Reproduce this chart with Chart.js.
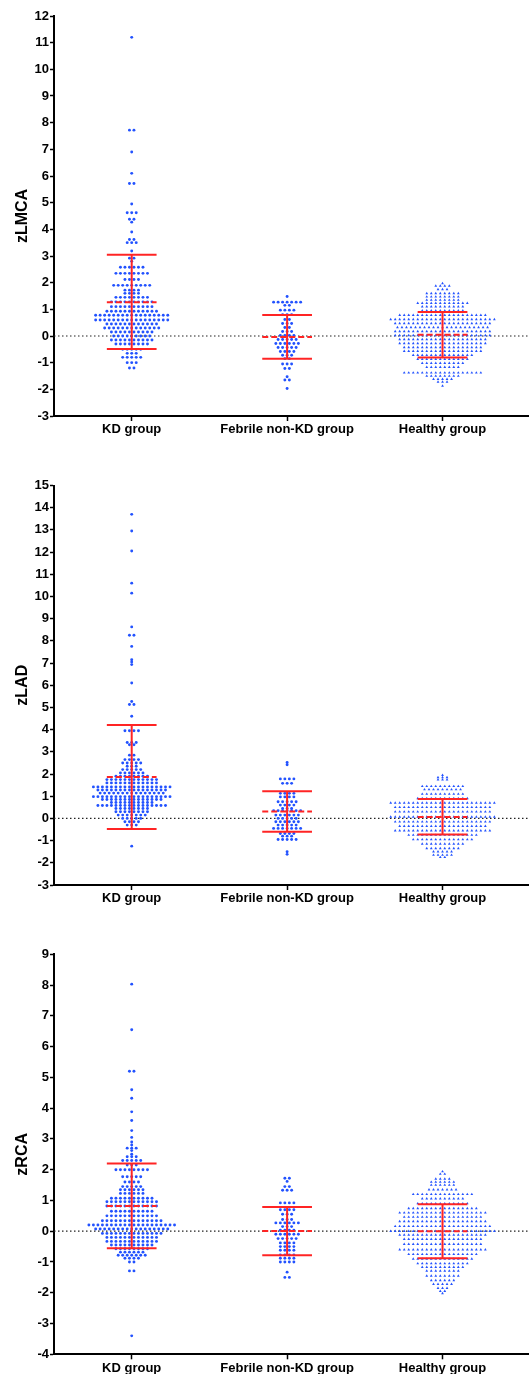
<!DOCTYPE html>
<html>
<head>
<meta charset="utf-8">
<title>zLMCA / zLAD / zRCA</title>
<script src="https://cdn.jsdelivr.net/npm/chart.js@4.4.1/dist/chart.umd.min.js"></script>
<style>
  html, body { margin: 0; padding: 0; background: #fff; }
  body { width: 532px; height: 1374px; position: relative; overflow: hidden; }
  canvas { position: absolute; left: 0; }
</style>
</head>
<body>
<canvas id="lmca" width="532" height="445" style="top:0px"></canvas>
<canvas id="lad" width="532" height="460" style="top:455px"></canvas>
<canvas id="rca" width="532" height="449" style="top:925px"></canvas>

<script>
// categories
const groups = ["KD group", "Febrile non-KD group", "Healthy group"];

// dot rows: [z value, number of dots in that row]
const lmcaKD = [[11.2,1],[7.72,2],[6.9,1],[6.1,1],[5.72,2],[4.95,1],[4.62,3],[4.38,2],[4.27,1],[3.9,1],[3.62,2],[3.5,3],
  [3.19,1],[2.92,2],[2.8,1],[2.58,6],[2.35,8],[2.12,4],[1.9,9],[1.72,4],[1.6,4],[1.45,8],[1.28,10],[1.1,10],[0.93,12],
  [0.78,17],[0.6,17],[0.45,12],[0.3,13],[0.15,10],[0.0,9],[-0.15,10],[-0.3,8],[-0.5,5],[-0.65,3],[-0.8,5],[-1.0,3],[-1.2,2]];
const lmcaFeb = [[1.48,1],[1.27,7],[1.15,2],[0.97,4],[0.8,3],[0.62,2],[0.47,3],[0.32,2],[0.17,3],[0.02,4],[-0.13,5],
  [-0.28,6],[-0.43,5],[-0.58,4],[-0.72,3],[-0.85,2],[-1.05,3],[-1.22,2],[-1.53,1],[-1.65,2],[-1.97,1]];
const lmcaHealthy = [[1.97,1],[1.88,4],[1.75,3],[1.6,8],[1.47,8],[1.35,8],[1.23,12],[1.1,10],[0.95,10],[0.78,20],
  [0.62,24],[0.47,22],[0.32,21],[0.17,22],[0.02,22],[-0.13,20],[-0.28,20],[-0.43,18],[-0.57,18],[-0.72,14],[-0.87,12],
  [-1.02,10],[-1.17,8],[-1.38,18],[-1.5,8],[-1.62,5],[-1.72,3],[-1.87,1]];

const ladKD = [[13.7,1],[12.95,1],[12.05,1],[10.6,1],[10.15,1],[8.63,1],[8.25,2],[7.75,1],[7.15,1],[7.05,1],[6.93,1],
  [6.1,1],[5.27,1],[5.13,2],[4.6,1],[3.95,4],[3.42,3],[3.32,2],[2.85,2],[2.65,4],[2.5,5],[2.35,3],[2.2,5],[2.05,6],
  [1.9,8],[1.75,12],[1.6,12],[1.42,18],[1.28,16],[1.14,15],[0.98,18],[0.85,14],[0.72,10],[0.58,16],[0.45,8],[0.3,8],
  [0.15,7],[0.0,5],[-0.15,4],[-0.3,3],[-1.25,1]];
const ladFeb = [[2.52,1],[2.42,1],[1.78,4],[1.58,3],[1.13,4],[0.97,4],[0.75,5],[0.6,4],[0.45,3],[0.35,7],[0.15,6],
  [0.0,5],[-0.15,6],[-0.3,5],[-0.45,7],[-0.68,4],[-0.8,3],[-0.95,5],[-1.5,1],[-1.62,1]];
const ladHealthy = [[1.95,1],[1.85,3],[1.75,3],[1.45,10],[1.3,9],[1.1,10],[0.9,12],[0.7,24],[0.5,22],[0.3,22],
  [0.07,24],[-0.15,22],[-0.35,20],[-0.55,22],[-0.75,16],[-0.95,14],[-1.15,10],[-1.35,8],[-1.5,5],[-1.65,5],[-1.75,2]];

const rcaKD = [[8.03,1],[6.55,1],[5.2,2],[4.6,1],[4.32,1],[3.88,1],[3.6,1],[3.27,1],[3.05,1],[2.9,1],[2.8,1],[2.7,3],
  [2.62,1],[2.5,1],[2.42,3],[2.3,5],[2.15,3],[2.0,8],[1.77,5],[1.6,4],[1.45,5],[1.35,6],[1.23,6],[1.07,10],[0.96,12],
  [0.82,12],[0.65,10],[0.5,12],[0.34,14],[0.2,20],[0.07,17],[-0.07,14],[-0.2,12],[-0.33,12],[-0.45,10],[-0.57,8],
  [-0.68,6],[-0.78,7],[-0.88,4],[-1.0,2],[-1.29,2],[-3.4,1]];
const rcaFeb = [[1.72,2],[1.62,1],[1.45,2],[1.33,3],[0.92,4],[0.7,4],[0.55,3],[0.38,3],[0.27,6],[0.15,3],[0.03,4],
  [-0.1,6],[-0.24,5],[-0.38,4],[-0.5,4],[-0.62,4],[-0.77,4],[-0.88,4],[-1.0,4],[-1.33,1],[-1.5,2]];
const rcaHealthy = [[1.94,1],[1.86,2],[1.7,4],[1.6,6],[1.5,6],[1.35,7],[1.2,14],[1.06,10],[0.9,12],[0.74,16],[0.6,20],
  [0.46,18],[0.32,20],[0.16,22],[0.0,24],[-0.12,20],[-0.26,18],[-0.42,18],[-0.6,20],[-0.75,16],[-0.9,14],[-1.05,12],
  [-1.17,10],[-1.29,8],[-1.45,8],[-1.6,6],[-1.72,5],[-1.85,3],[-1.95,2],[-2.02,1]];

// mean and mean ± SD per group (KD, febrile, healthy)
const lmcaMean = [1.27, -0.04, 0.05];
const lmcaLow  = [-0.49, -0.85, -0.81];
const lmcaHigh = [3.05, 0.79, 0.9];
const ladMean = [1.87, 0.31, 0.06];
const ladLow  = [-0.48, -0.6, -0.73];
const ladHigh = [4.21, 1.22, 0.87];
const rcaMean = [0.82, 0.01, 0.0];
const rcaLow  = [-0.55, -0.78, -0.88];
const rcaHigh = [2.2, 0.79, 0.88];

const BLUE = "#2252ff";
const RED = "#ff2424";
const FONT = "'Liberation Sans', Arial, sans-serif";
const DX = 0.029;   // gap between dots in one row, x units
const CAP = 0.16;   // half width of the red bars

Chart.defaults.font.family = FONT;

// spread each row of dots sideways round the category centre
function swarm(rows, cx) {
  const pts = [];
  rows.forEach(([y, n]) => {
    for (let i = 0; i < n; i++) pts.push({ x: cx + (i - (n - 1) / 2) * DX, y: y });
  });
  return pts;
}

function seg(x1, y1, x2, y2) {
  return [{ x: x1, y: y1 }, { x: x2, y: y2 }];
}

function redLine(data, dashed) {
  return {
    data: data, showLine: true, borderColor: RED, borderWidth: 2,
    borderDash: dashed ? [6, 3] : [], pointRadius: 0, order: 0
  };
}

function drawPanel(id, title, yMin, yMax, rows, mean, low, high, padTop, axisH) {
  const datasets = [];

  for (let i = 0; i < 3; i++) {
    const cx = i + 1;
    datasets.push(redLine(seg(cx, low[i], cx, high[i]), false));
    datasets.push(redLine(seg(cx - CAP, high[i], cx + CAP, high[i]), false));
    datasets.push(redLine(seg(cx - CAP, low[i], cx + CAP, low[i]), false));
    datasets.push(redLine(seg(cx - CAP, mean[i], cx + CAP, mean[i]), true));
  }

  rows.forEach((r, i) => {
    datasets.push({
      data: swarm(r, i + 1),
      pointStyle: i === 2 ? "triangle" : "circle",
      pointRadius: i === 2 ? 1.6 : 1.45,
      pointBackgroundColor: BLUE,
      pointBorderWidth: 0,
      order: 1
    });
  });

  // dotted zero line
  datasets.push({
    data: seg(0.5, 0, 3.6, 0), showLine: true, borderColor: "#222", borderWidth: 1.2,
    borderDash: [1.5, 2.5], pointRadius: 0, order: 2
  });

  new Chart(document.getElementById(id), {
    type: "scatter",
    data: { datasets: datasets },
    options: {
      responsive: false,
      animation: false,
      devicePixelRatio: 1,
      events: [],
      layout: { padding: { top: padTop, right: 0, bottom: 0, left: 0 } },
      plugins: { legend: { display: false }, tooltip: { enabled: false } },
      scales: {
        x: {
          type: "linear", min: 0.5, max: 3.55,
          afterBuildTicks: s => { s.ticks = [1, 2, 3].map(v => ({ value: v })); },
          afterFit: s => { s.height = axisH; },
          ticks: {
            callback: v => groups[v - 1], color: "#000", padding: 1,
            maxRotation: 0, autoSkip: false,
            font: { size: 13, weight: "bold" }
          },
          grid: { drawOnChartArea: false, tickLength: 5, color: "#000", tickWidth: 1.5 },
          border: { color: "#000", width: 2 }
        },
        y: {
          min: yMin, max: yMax,
          afterFit: s => { s.width = 54; },
          ticks: { stepSize: 1, color: "#000", padding: 1, font: { size: 13, weight: "bold" } },
          grid: { drawOnChartArea: false, tickLength: 4, color: "#000", tickWidth: 1.5 },
          border: { color: "#000", width: 2 },
          title: {
            display: true, text: title, color: "#000",
            font: { size: 16, weight: "bold" }, padding: { top: 13, bottom: 0 }
          }
        }
      }
    }
  });
}

drawPanel("lmca", "zLMCA", -3, 12, [lmcaKD, lmcaFeb, lmcaHealthy], lmcaMean, lmcaLow, lmcaHigh, 16, 29);
drawPanel("lad", "zLAD", -3, 15, [ladKD, ladFeb, ladHealthy], ladMean, ladLow, ladHigh, 30.5, 30);
drawPanel("rca", "zRCA", -4, 9, [rcaKD, rcaFeb, rcaHealthy], rcaMean, rcaLow, rcaHigh, 29.3, 19.7);
</script>
</body>
</html>
